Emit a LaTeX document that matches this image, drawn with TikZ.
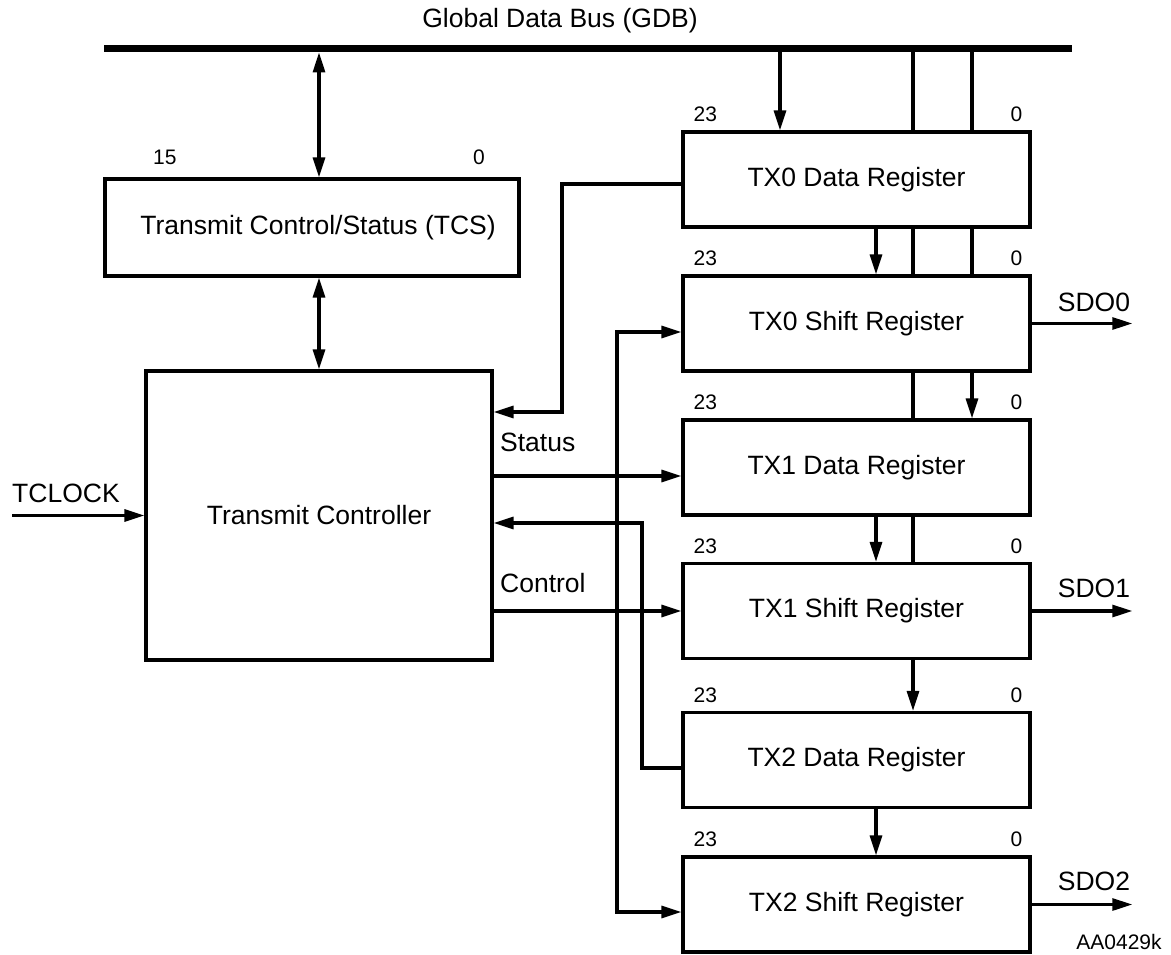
\documentclass[tikz,border=0pt]{standalone}
\usepackage{fontspec}
\setmainfont{Liberation Sans}
\usetikzlibrary{arrows.meta,positioning,calc}

\begin{document}
\begin{tikzpicture}[x=1pt,y=-1pt,
  box/.style={draw,line width=3.1pt,align=center,inner sep=0pt,font=\fontsize{26.5}{31}\selectfont},
  bit/.style={inner sep=0pt,font=\fontsize{21}{25}\selectfont},
  reg/.style={box,minimum width=347pt,minimum height=95pt,
    label={[bit,anchor=base west,xshift=12pt,yshift=8.6pt]north west:23},
    label={[bit,anchor=base east,xshift=-9pt,yshift=8.6pt]north east:0}},
  txt/.style={inner sep=0pt,font=\fontsize{26.5}{31}\selectfont},
  wire/.style={line width=3.1pt},
  arr/.style={wire,-{Triangle[length=20pt,width=12pt]}},
  dbl/.style={wire,{Triangle[length=20pt,width=12pt]}-{Triangle[length=20pt,width=12pt]}}
]
\useasboundingbox (0,0) rectangle (1171,955);
% bus and blocks
\node[txt] (title) at (560,21) {Global Data Bus (GDB)};
\node[fill,inner sep=0pt,minimum width=968pt,minimum height=7.5pt] (gdb) at (588,48.5) {};
\node[box,minimum width=414pt,minimum height=97pt,
  label={[bit,anchor=base west,xshift=49.5pt,yshift=13pt]north west:15},
  label={[bit,anchor=base east,xshift=-35.5pt,yshift=13pt]north east:0}] (tcs) at (312,227.5) {\hspace*{12pt}Transmit Control/Status (TCS)};
\node[box,minimum width=346pt,minimum height=289pt] (ctl) at (319,515.5) {Transmit Controller};
\node[reg] (tx0d) at (856.5,179.5) {TX0 Data Register};
\node[reg] (tx0s) at (856.5,323.5) {TX0 Shift Register};
\node[reg] (tx1d) at (856.5,467.5) {TX1 Data Register};
\node[reg] (tx1s) at (856.5,611) {TX1 Shift Register};
\node[reg] (tx2d) at (856.5,760) {TX2 Data Register};
\node[reg] (tx2s) at (856.5,904.5) {TX2 Shift Register};
% labels
\node[txt,anchor=west] (tclk) at (12,493) {TCLOCK};
\node[txt,anchor=west] (stlbl) at (500,442) {Status};
\node[txt,anchor=west] (ctlbl) at (500,583) {Control};
\node[txt,inner sep=2pt] (sdo0) at (1094,302) {SDO0};
\node[txt,inner sep=2pt] (sdo1) at (1094,588) {SDO1};
\node[txt,inner sep=2pt] (sdo2) at (1094,881) {SDO2};
\node[bit] (fig) at (1119,942) {AA0429k};
% wire columns and bends
\coordinate (colA) at (780,0);
\coordinate (colB) at (876,0);
\coordinate (colC) at (913,0);
\coordinate (colD) at (972,0);
\coordinate (cbus) at (617,0);
\coordinate (sts) at (562,412);
\coordinate (fb) at (642,523);
\coordinate (stout) at ([yshift=-8.5pt]tx1d.west);
\coordinate (c0) at ([yshift=-8.5pt]tx0s.west);
\coordinate (c2) at ([yshift=-7.5pt]tx2s.west);
\coordinate (sin) at ([yshift=-4.5pt]tx0d.west);
\coordinate (fbin) at ([yshift=-8pt]tx2d.west);
% bus to TCS and controller
\draw[dbl] (gdb.south -| ctl.north) -- (tcs.north -| ctl.north);
\draw[dbl] (tcs.south -| ctl.north) -- (ctl.north);
% register chain
\draw[arr] (gdb.south -| colA) -- (tx0d.north -| colA);
\draw[wire] (gdb.south -| colC) -- (tx0d.north -| colC);
\draw[wire] (gdb.south -| colD) -- (tx0d.north -| colD);
\draw[arr] (tx0d.south -| colB) -- (tx0s.north -| colB);
\draw[wire] (tx0d.south -| colC) -- (tx0s.north -| colC);
\draw[wire] (tx0d.south -| colD) -- (tx0s.north -| colD);
\draw[wire] (tx0s.south -| colC) -- (tx1d.north -| colC);
\draw[arr] (tx0s.south -| colD) -- (tx1d.north -| colD);
\draw[arr] (tx1d.south -| colB) -- (tx1s.north -| colB);
\draw[wire] (tx1d.south -| colC) -- (tx1s.north -| colC);
\draw[arr] (tx1s.south -| colC) -- (tx2d.north -| colC);
\draw[arr] (tx2d.south -| colB) -- (tx2s.north -| colB);
% status and control
\draw[arr] (sin) -| (sts) -- (sts -| ctl.east);
\draw[arr] (stout -| ctl.east) -- (stout);
\draw[arr] (fbin) -| (fb) -- (fb -| ctl.east);
\draw[arr] (tx1s.west -| ctl.east) -- (tx1s.west);
\draw[arr] (tx1s.west -| cbus) |- (c0);
\draw[arr] (tx1s.west -| cbus) |- (c2);
\draw[arr] (tclk.west |- ctl.west) -- (ctl.west);
% serial outputs
\draw[arr] (tx0s.east) -- (tx0s.east -| sdo0.east);
\draw[arr] (tx1s.east) -- (tx1s.east -| sdo1.east);
\draw[arr] (tx2s.east) -- (tx2s.east -| sdo2.east);
\end{tikzpicture}
\end{document}
